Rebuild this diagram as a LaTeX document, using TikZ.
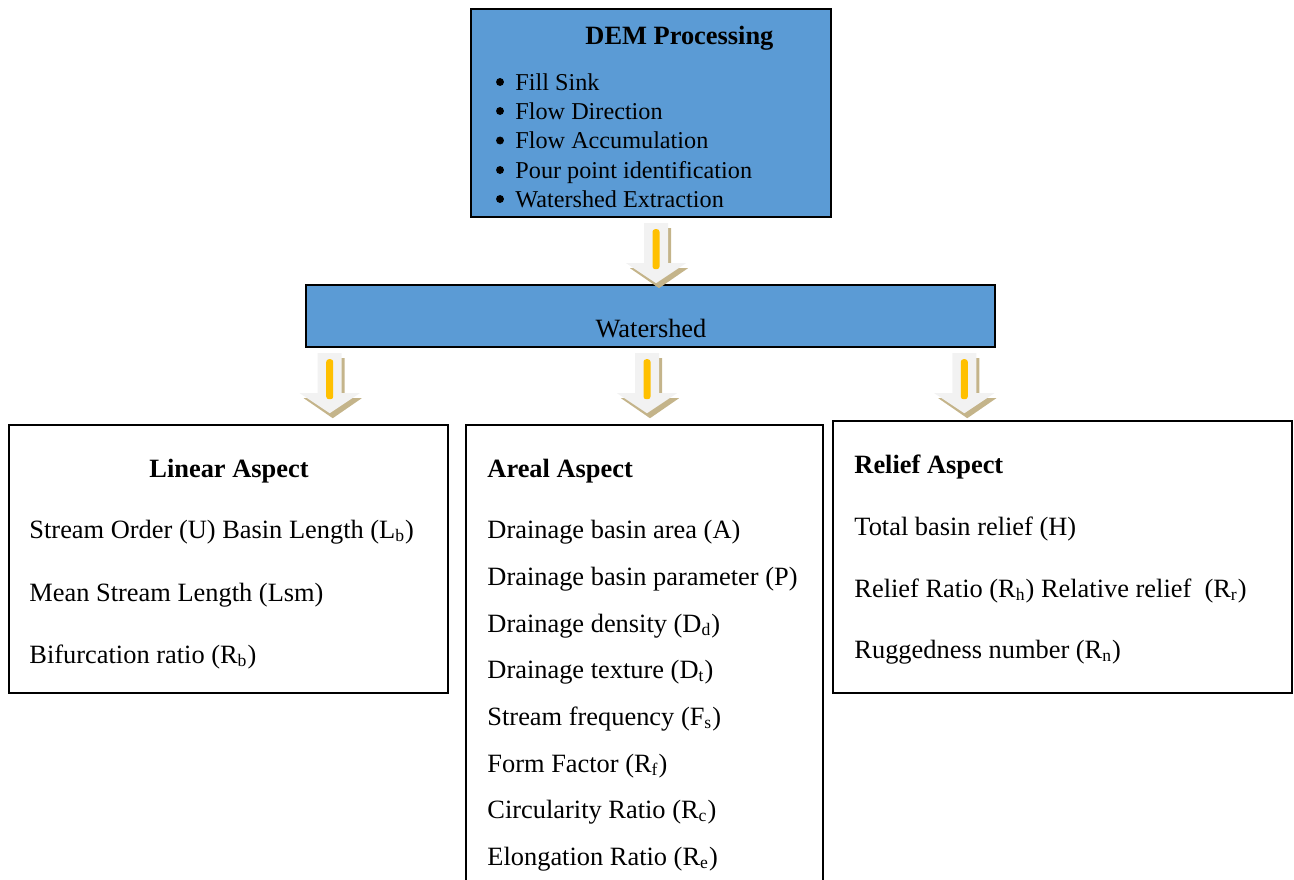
\documentclass[tikz,border=0pt]{standalone}
\usepackage{fontspec}
\setmainfont{Liberation Serif}
\usepackage{tikz}
\usetikzlibrary{calc}
\definecolor{procblue}{RGB}{91,155,213}
\definecolor{arrowtan}{RGB}{196,180,138}
\definecolor{arrowlight}{RGB}{242,242,242}
\definecolor{arrowgold}{RGB}{255,192,0}
\tikzstyle{bluebox} = [draw=black, line width=1.1pt, fill=procblue, inner sep=0pt]
\tikzstyle{aspectbox} = [draw=black, line width=0.8pt, inner sep=0pt]
\tikzstyle{entry} = [anchor=base west, inner sep=0pt]
\tikzstyle{stepitem} = [anchor=base west, inner sep=0pt, font=\fontsize{11}{13}\selectfont]
% block arrow: tan shadow, light body, gold bar
\tikzset{flowarrow/.pic={
	\fill[arrowtan] (-9,5) -- (15,5) -- (15,45) -- (32,45) -- (3,65) -- (-26,45) -- (-9,45) -- cycle;
	\fill[arrowlight] (-12,0) -- (12,0) -- (12,40) -- (30,40) -- (0,60) -- (-30,40) -- (-12,40) -- cycle;
	\fill[arrowgold, rounded corners=1.2pt] (-3.5,6) rectangle (3.5,46);
}}

\begin{document}
\begin{tikzpicture}[x=0.4545pt, y=-0.4545pt, font=\fontsize{12}{14}\selectfont]
	\clip (0,0) rectangle (1294,879);
	\node[bluebox, minimum width=163.6pt, minimum height=94.5pt] (dem) at (651,113) {};
	\node[bluebox, minimum width=313.2pt, minimum height=28.2pt] (ws) at (650.5,316) {};
	\node[aspectbox, minimum width=199.5pt, minimum height=121.8pt] (linear) at (228.5,559) {};
	\node[aspectbox, minimum width=162.3pt, minimum height=215.9pt] (areal) at (644.5,662.5) {};
	\node[aspectbox, minimum width=208.6pt, minimum height=123.6pt] (relief) at (1062.5,557) {};
	% DEM processing steps
	\node[entry] (demtitle) at (585,45) {\textbf{DEM Processing}};
	\node[stepitem] (fill) at (515,90) {Fill Sink};
	\node[stepitem] (fdir) at (515,119) {Flow Direction};
	\node[stepitem] (facc) at (515,148.5) {Flow Accumulation};
	\node[stepitem] (pour) at (515,178) {Pour point identification};
	\node[stepitem] (wext) at (515,207) {Watershed Extraction};
	\fill ($(fill.base west)+(-15,-8)$) circle (1.8pt);
	\fill ($(fdir.base west)+(-15,-8)$) circle (1.8pt);
	\fill ($(facc.base west)+(-15,-8)$) circle (1.8pt);
	\fill ($(pour.base west)+(-15,-8)$) circle (1.8pt);
	\fill ($(wext.base west)+(-15,-8)$) circle (1.8pt);
	\node[anchor=base, inner sep=0pt] (wstext) at (651,337) {Watershed};
	% linear aspect
	\node[entry] (lintitle) at (149,477) {\textbf{Linear Aspect}};
	\node[entry] (lin1) at (29,538) {Stream Order (U) Basin Length (L\textsubscript{b})};
	\node[entry] (lin2) at (29,601) {Mean Stream Length (Lsm)};
	\node[entry] (lin3) at (29,663) {Bifurcation ratio (R\textsubscript{b})};
	% areal aspect
	\node[entry] (artitle) at (487,477) {\textbf{Areal Aspect}};
	\node[entry] (ar1) at (487,538) {Drainage basin area (A)};
	\node[entry] (ar2) at (487,585) {Drainage basin parameter (P)};
	\node[entry] (ar3) at (487,632) {Drainage density (D\textsubscript{d})};
	\node[entry] (ar4) at (487,678) {Drainage texture (D\textsubscript{t})};
	\node[entry] (ar5) at (487,725) {Stream frequency (F\textsubscript{s})};
	\node[entry] (ar6) at (487,772) {Form Factor (R\textsubscript{f})};
	\node[entry] (ar7) at (487,818) {Circularity Ratio (R\textsubscript{c})};
	\node[entry] (ar8) at (487,865) {Elongation Ratio (R\textsubscript{e})};
	% relief aspect
	\node[entry] (reltitle) at (854,473) {\textbf{Relief Aspect}};
	\node[entry] (rel1) at (854,535) {Total basin relief (H)};
	\node[entry] (rel2) at (854,597) {Relief Ratio (R\textsubscript{h}) Relative relief~ (R\textsubscript{r})};
	\node[entry] (rel3) at (854,658) {Ruggedness number (R\textsubscript{n})};
	% arrows
	\pic (toparrow) at ($(dem.south)+(5,5)$) {flowarrow};
	\pic (linarrow) at ($(ws.south west)+(25,5)$) {flowarrow};
	\pic (ararrow) at ($(ws.south)+(-3.5,5)$) {flowarrow};
	\pic (relarrow) at ($(ws.south east)+(-32,5)$) {flowarrow};
\end{tikzpicture}
\end{document}
